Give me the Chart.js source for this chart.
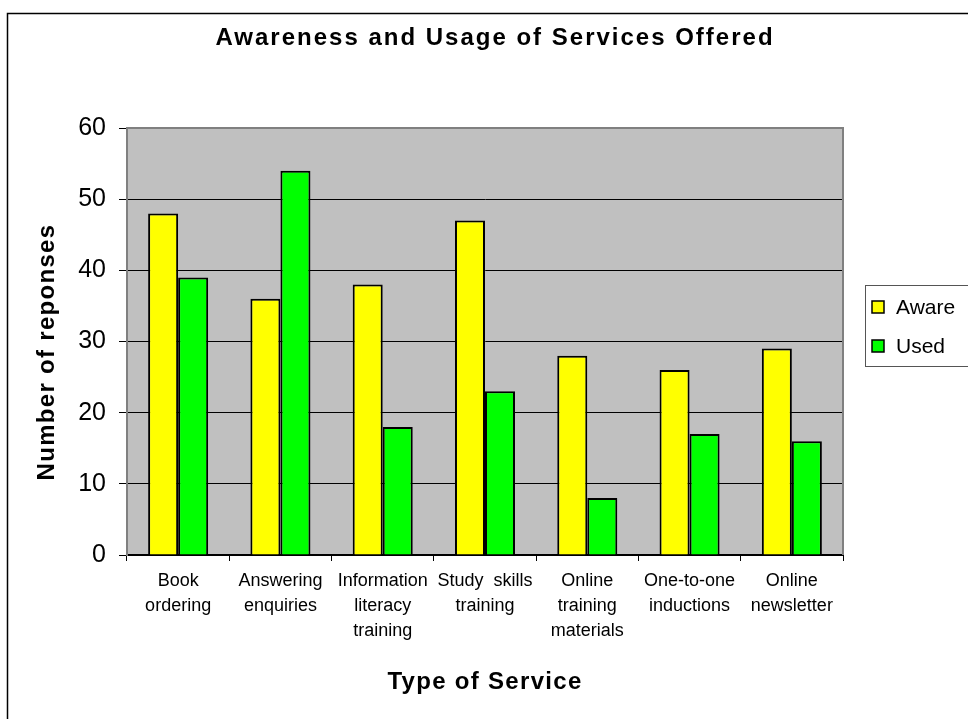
<!DOCTYPE html>
<html>
<head>
<meta charset="utf-8">
<title>Awareness and Usage of Services Offered</title>
<script src="https://cdn.jsdelivr.net/npm/chart.js@4"></script>
<style>
  body { margin: 0; background: #fff; }
  canvas { display: block; }
</style>
</head>
<body>
<canvas id="myChart" width="968" height="719"></canvas>
<script>
// service categories, split into the lines shown under each group
var categories = [
  ["Book", "ordering"],
  ["Answering", "enquiries"],
  ["Information", "literacy", "training"],
  ["Study  skills", "training"],
  ["Online", "training", "materials"],
  ["One-to-one", "inductions"],
  ["Online", "newsletter"],
];
var seriesNames = ["Aware", "Used"];
var awareValues = [48, 36, 38, 47, 28, 26, 29];
var usedValues = [39, 54, 18, 23, 8, 17, 16];
var yMin = 0;
var yMax = 60;
var yStep = 10;

var chartTitle = "Awareness and Usage of Services Offered";
var xTitle = "Type of Service";
var yTitle = "Number of reponses";

var FONT = "'Liberation Sans', Arial, sans-serif";
Chart.defaults.font.family = FONT;
Chart.defaults.color = "#000";

// background, plot area, titles and legend box
var frame = {
  id: "frame",
  beforeDraw(chart) {
    const { ctx, chartArea: a } = chart;
    ctx.save();
    ctx.fillStyle = "#fff";
    ctx.fillRect(0, 0, chart.width, chart.height);
    ctx.strokeStyle = "#000";
    ctx.lineWidth = 1.5;
    ctx.strokeRect(7.5, 13.5, chart.width + 40, chart.height + 40);
    ctx.fillStyle = "#c0c0c0";
    ctx.fillRect(a.left, a.top, a.right - a.left, a.bottom - a.top);
    ctx.restore();
  },
  beforeDatasetsDraw(chart) {
    const { ctx, chartArea: a } = chart;
    ctx.save();
    ctx.strokeStyle = "#808080";
    ctx.lineWidth = 2;
    ctx.beginPath();
    ctx.moveTo(a.left, a.bottom);
    ctx.lineTo(a.left, a.top);
    ctx.lineTo(a.right, a.top);
    ctx.lineTo(a.right, a.bottom);
    ctx.stroke();
    ctx.restore();
  },
  afterDraw(chart) {
    const { ctx, chartArea: a } = chart;
    ctx.save();
    ctx.fillStyle = "#000";
    ctx.textAlign = "center";
    ctx.textBaseline = "middle";

    ctx.font = "bold 24px " + FONT;
    ctx.letterSpacing = "2px";
    ctx.fillText(chartTitle, 495, 38);

    ctx.letterSpacing = "1.3px";
    ctx.fillText(xTitle, (a.left + a.right) / 2, 682);

    ctx.save();
    ctx.translate(47, 352);
    ctx.rotate(-Math.PI / 2);
    ctx.fillText(yTitle, 0, 0);
    ctx.restore();

    // legend
    ctx.letterSpacing = "0px";
    ctx.fillStyle = "#fff";
    ctx.fillRect(865, 285, 120, 81);
    ctx.strokeStyle = "#555";
    ctx.lineWidth = 1;
    ctx.strokeRect(865.5, 285.5, 120, 81);
    ctx.font = "21px " + FONT;
    ctx.textAlign = "left";
    chart.data.datasets.forEach((ds, i) => {
      const cy = 307 + i * 39;
      ctx.fillStyle = ds.backgroundColor;
      ctx.fillRect(872, cy - 6, 12, 12);
      ctx.strokeStyle = "#000";
      ctx.lineWidth = 1.5;
      ctx.strokeRect(872, cy - 6, 12, 12);
      ctx.fillStyle = "#000";
      ctx.fillText(ds.label, 896, cy + 1);
    });
    ctx.restore();
  },
};

var ctx = document.getElementById("myChart").getContext("2d");
var servicesChart = new Chart(ctx, {
  type: "bar",
  data: {
    labels: categories,
    datasets: [
      {
        label: seriesNames[0],
        data: awareValues,
        backgroundColor: "#ffff00",
        borderColor: "#000",
        borderWidth: 2,
      },
      {
        label: seriesNames[1],
        data: usedValues,
        backgroundColor: "#00ff00",
        borderColor: "#000",
        borderWidth: 2,
      },
    ],
  },
  options: {
    responsive: false,
    animation: false,
    categoryPercentage: 0.587,
    barPercentage: 1,
    layout: {
      padding: { left: 0, top: 128, right: 125, bottom: 0 },
    },
    plugins: {
      legend: { display: false },
      title: { display: false },
      tooltip: { enabled: false },
    },
    scales: {
      x: {
        afterFit(scale) {
          scale.height = 164;
        },
        grid: {
          offset: true,
          drawOnChartArea: false,
          color: "#000",
          tickLength: 6,
        },
        border: { color: "#000", width: 2 },
        ticks: {
          padding: 8,
          maxRotation: 0,
          autoSkip: false,
          font: { size: 18, lineHeight: 1.38 },
          color: "#000",
        },
      },
      y: {
        min: yMin,
        max: yMax,
        afterFit(scale) {
          scale.width = 127;
        },
        grid: {
          color: "#000",
          lineWidth: 1,
          tickLength: 8,
        },
        border: { color: "#808080", width: 2 },
        ticks: {
          stepSize: yStep,
          padding: 13,
          font: { size: 25 },
          color: "#000",
        },
      },
    },
  },
  plugins: [frame],
});
</script>
</body>
</html>
